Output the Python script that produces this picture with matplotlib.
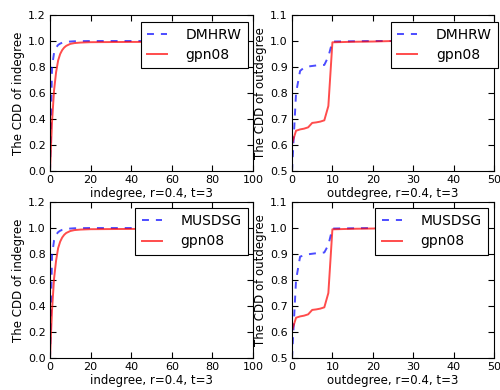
import matplotlib as mpl
import matplotlib.pyplot as plt

mpl.rcParams['font.family'] = 'DejaVu Sans'
mpl.rcParams['lines.scale_dashes'] = False

# --- data ---
in_x = [0, 1, 2, 3, 4, 5, 6, 7, 8, 10, 12, 15, 20, 30, 40, 50, 60]
dmhrw_in = [0.0, 0.80, 0.91, 0.95, 0.97, 0.98, 0.987, 0.991, 0.994, 0.996,
            0.998, 0.999, 1.0, 1.0, 1.0, 1.0, 1.0]
gpn08_in_a = [0.0, 0.38, 0.62, 0.76, 0.85, 0.90, 0.93, 0.95, 0.963, 0.978,
              0.984, 0.988, 0.991, 0.992, 0.993, 0.993, 0.993]
musdsg_in = [0.0, 0.79, 0.905, 0.948, 0.968, 0.979, 0.986, 0.99, 0.993, 0.996,
             0.998, 0.999, 1.0, 1.0, 1.0, 1.0, 1.0]
gpn08_in_b = [0.0, 0.37, 0.61, 0.75, 0.845, 0.895, 0.927, 0.948, 0.962, 0.977,
              0.984, 0.988, 0.991, 0.992, 0.993, 0.993, 0.993]

out_x = [0, 1, 2, 3, 4, 5, 6, 7, 8, 9, 10, 15, 20, 25, 30]
dmhrw_out = [0.50, 0.80, 0.885, 0.898, 0.902, 0.904, 0.906, 0.907, 0.908,
             0.94, 0.998, 0.999, 1.0, 1.0, 1.0]
gpn08_out_a = [0.605, 0.655, 0.66, 0.663, 0.668, 0.685, 0.687, 0.69, 0.695,
               0.75, 0.995, 0.997, 0.998, 1.0, 1.0]
musdsg_out = [0.50, 0.80, 0.89, 0.895, 0.899, 0.901, 0.903, 0.904, 0.906,
              0.935, 0.998, 0.999, 1.0, 1.0, 1.0]
gpn08_out_b = [0.605, 0.655, 0.66, 0.663, 0.668, 0.685, 0.687, 0.69, 0.695,
               0.75, 0.995, 0.997, 0.998, 1.0, 1.0]

in_yticks = [0.0, 0.2, 0.4, 0.6, 0.8, 1.0, 1.2]
out_yticks = [0.5, 0.6, 0.7, 0.8, 0.9, 1.0, 1.1]

panels = [
    # (rect, x, blue, red, blue label, xlabel, ylabel, xlim, yticks, legend anchor)
    ([0.100, 0.5615, 0.406, 0.40], in_x, dmhrw_in, gpn08_in_a, "DMHRW",
     "indegree, r=0.4, t=3", "The CDD of indegree", (0, 100), in_yticks, (0.975, 0.957)),
    ([0.584, 0.5615, 0.404, 0.40], out_x, dmhrw_out, gpn08_out_a, "DMHRW",
     "outdegree, r=0.4, t=3", "The CDD of outdegree", (0, 50), out_yticks, (1.02, 0.957)),
    ([0.100, 0.082, 0.406, 0.40], in_x, musdsg_in, gpn08_in_b, "MUSDSG",
     "indegree, r=0.4, t=3", "The CDD of indegree", (0, 100), in_yticks, (0.975, 0.962)),
    ([0.584, 0.082, 0.404, 0.40], out_x, musdsg_out, gpn08_out_b, "MUSDSG",
     "outdegree, r=0.4, t=3", "The CDD of outdegree", (0, 50), out_yticks, (0.97, 0.962)),
]

fig = plt.figure(figsize=(5, 3.9), dpi=100)

for rect, x, blue, red, blab, xlab, ylab, xlim, yticks, anchor in panels:
    ax = fig.add_axes(rect)
    ax.plot(x, blue, "b--", alpha=0.7, lw=1.4, dashes=(5, 5), label=blab)
    ax.plot(x, red, "r-", alpha=0.7, lw=1.4, label="gpn08")
    ax.set_xlim(*xlim)
    ax.set_ylim(yticks[0], yticks[-1])
    ax.set_yticks(yticks)
    ax.set_yticklabels([f"{t:.1f}" for t in yticks])
    ax.tick_params(direction="in", top=True, right=True, length=4,
                   labelsize=8, pad=3)
    ax.set_xlabel(xlab, fontsize=8.5, labelpad=1)
    ax.set_ylabel(ylab, fontsize=8.5, labelpad=2)
    leg = ax.legend(loc="upper right", bbox_to_anchor=anchor, borderaxespad=0,
                    fontsize=10, fancybox=False, framealpha=1,
                    handlelength=1.45, handletextpad=1.35, borderpad=0.45,
                    labelspacing=0.45)
    leg.get_frame().set_edgecolor("black")
    leg.get_frame().set_linewidth(0.8)

fig.savefig("out.png", dpi=100)
